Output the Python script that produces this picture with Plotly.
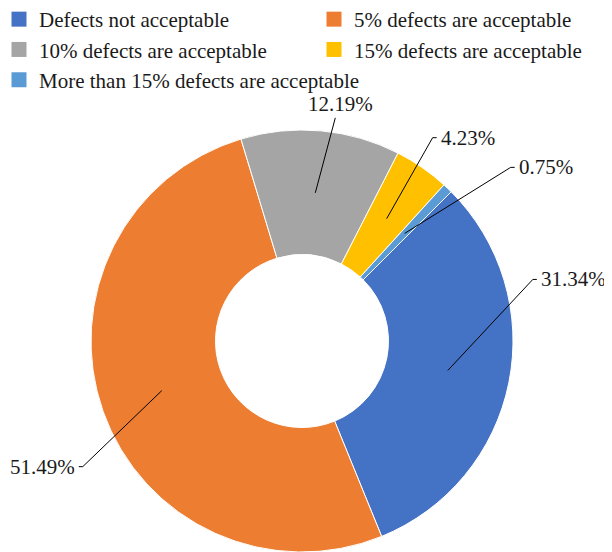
import math
import plotly.graph_objects as go

labels = ['Defects not acceptable', '5% defects are acceptable', '10% defects are acceptable',
          '15% defects are acceptable', 'More than 15% defects are acceptable']
shares = [31.34, 51.49, 12.19, 4.23, 0.75]
colors = ['#4472C4', '#ED7D31', '#A5A5A5', '#FFC000', '#5B9BD5']
legend_col = ['legend', 'legend2', 'legend', 'legend2', 'legend']

W, H = 612, 552
OFF = 8  # page body margin: the figure sits 8px in from the window corner
M = dict(l=0, r=24, t=122, b=8)
HOLE = 0.41
ROT = 45
FONT = dict(family='Liberation Serif', size=21, color='#1a1a1a')

# leader line elbow offset from the slice anchor (px), and horizontal tail (px)
leader = [(85, -91, 4), (-79, 76, -4), (20, -75, 0), (46, -81, 4), (106, -66, 4)]

pw, ph = W - M['l'] - M['r'], H - M['t'] - M['b']
cx, cy = M['l'] + pw / 2 + OFF, M['t'] + ph / 2 + OFF   # window pixels
R = min(pw, ph) / 2
rm = R * (1 + HOLE) / 2


def to_paper(px, py):
    # window pixels -> paper coords
    return (px - OFF - M['l']) / pw, (H - M['b'] - (py - OFF)) / ph


fig = go.Figure()
fig.add_trace(go.Pie(
    labels=labels, values=shares, sort=False, direction='clockwise', rotation=ROT,
    hole=HOLE, marker=dict(colors=colors, line=dict(color='white', width=1)),
    textinfo='none', hoverinfo='label+percent', showlegend=False,
))

# legend entries, split into two columns
for name, c, lg in zip(labels, colors, legend_col):
    fig.add_trace(go.Scatter(x=[None], y=[None], mode='markers', name=name, legend=lg,
                             marker=dict(symbol='square', size=15, color=c)))

total = sum(shares)
cum = 0
for v, (dx, dy, tail) in zip(shares, leader):
    mid = math.radians(ROT + (cum + v / 2) / total * 360)
    cum += v
    ax_, ay_ = cx + rm * math.sin(mid), cy - rm * math.cos(mid)
    ex, ey = ax_ + dx, ay_ + dy
    tx = ex + tail
    pts = [to_paper(ax_, ay_), to_paper(ex, ey), to_paper(tx, ey)]
    path = 'M{},{} L{},{} L{},{}'.format(*[c for p in pts for c in p])
    fig.add_shape(type='path', path=path, xref='paper', yref='paper',
                  line=dict(color='#000000', width=1))
    if tail > 0:
        x, y = to_paper(tx + 2, ey)
        fig.add_annotation(x=x, y=y, text=f'{v:.2f}%', xanchor='left', yanchor='middle')
    elif tail < 0:
        x, y = to_paper(tx - 2, ey)
        fig.add_annotation(x=x, y=y, text=f'{v:.2f}%', xanchor='right', yanchor='middle')
    else:
        x, y = to_paper(ex + 5, ey)
        fig.add_annotation(x=x, y=y, text=f'{v:.2f}%', xanchor='center', yanchor='bottom')

fig.update_annotations(showarrow=False, font=FONT, xref='paper', yref='paper')

fig.update_layout(
    width=W, height=H, margin=dict(**M, autoexpand=False),
    paper_bgcolor='white', plot_bgcolor='white', font=FONT,
    xaxis=dict(visible=False), yaxis=dict(visible=False),
    legend=dict(x=to_paper(-1, 0)[0], y=to_paper(0, -1)[1], xanchor='left', yanchor='top',
                font=FONT, bgcolor='rgba(0,0,0,0)'),
    legend2=dict(x=to_paper(314, 0)[0], y=to_paper(0, -1)[1], xanchor='left', yanchor='top',
                 font=FONT, bgcolor='rgba(0,0,0,0)'),
)

fig.write_html('out.html')
